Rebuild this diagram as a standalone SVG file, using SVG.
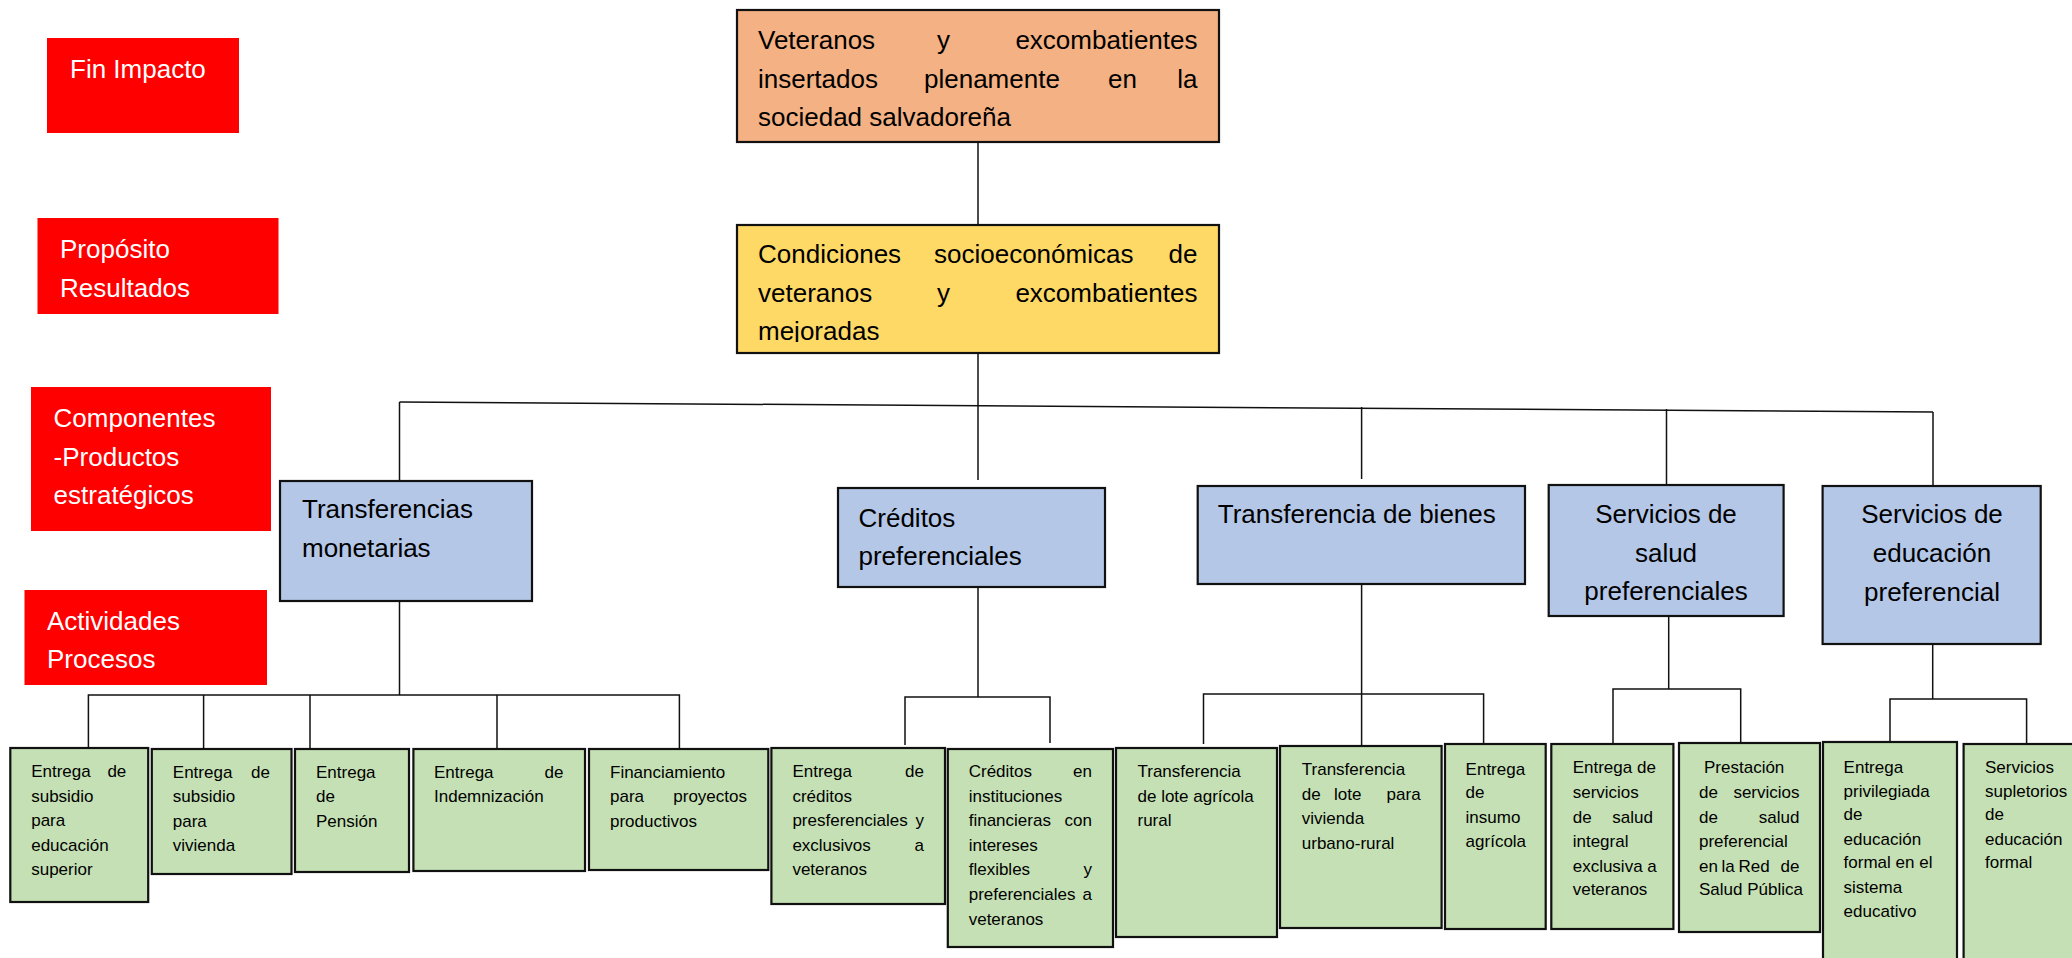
<svg xmlns="http://www.w3.org/2000/svg" width="2072" height="958" viewBox="0 0 2072 958">
<style>
.red{fill:#FF0000;}
.lbl{font-family:"Liberation Sans",Arial,sans-serif;font-size:26px;fill:#FFFFFF;}
.box{stroke:#111;stroke-width:2.2;}
.org{fill:#F4B183;}
.yel{fill:#FFD966;}
.blu{fill:#B4C7E7;}
.grn{fill:#C5E0B4;}
.big{font-family:"Liberation Sans",Arial,sans-serif;font-size:26px;fill:#000;}
.sm{font-family:"Liberation Sans",Arial,sans-serif;font-size:17px;fill:#000;}
.end{text-anchor:end;}
.mid{text-anchor:middle;}
.con{stroke:#111;stroke-width:1.5;fill:none;}
</style>
<defs>
<clipPath id="clipY"><rect x="737" y="225" width="482" height="117"/></clipPath>
</defs>
<rect width="2072" height="958" fill="#FFFFFF"/>

<g id="connectors">
<line class="con" x1="978" y1="142" x2="978" y2="225"/>
<line class="con" x1="978" y1="345" x2="978" y2="480"/>
<line class="con" x1="399.5" y1="402" x2="1933" y2="412"/>
<line class="con" x1="399.5" y1="402" x2="399.5" y2="481"/>
<line class="con" x1="1361.6" y1="407" x2="1361.6" y2="479"/>
<line class="con" x1="1666.5" y1="409" x2="1666.5" y2="485"/>
<line class="con" x1="1933" y1="412" x2="1933" y2="486"/>
<!-- Transferencias monetarias -->
<line class="con" x1="399.5" y1="601" x2="399.5" y2="695"/>
<polyline class="con" points="88.4,748 88.4,695 679.4,695 679.4,749"/>
<line class="con" x1="203.6" y1="695" x2="203.6" y2="749"/>
<line class="con" x1="310" y1="695" x2="310" y2="749"/>
<line class="con" x1="497" y1="695" x2="497" y2="749"/>
<!-- Creditos -->
<line class="con" x1="978" y1="587" x2="978" y2="697"/>
<polyline class="con" points="905,745 905,697 1050,697 1050,743"/>
<!-- Transferencia de bienes -->
<line class="con" x1="1361.6" y1="578" x2="1361.6" y2="746"/>
<polyline class="con" points="1203.5,744 1203.5,694 1483.6,694 1483.6,744"/>
<!-- Salud -->
<line class="con" x1="1668.7" y1="616" x2="1668.7" y2="689"/>
<polyline class="con" points="1613,744 1613,689 1740.7,689 1740.7,743"/>
<!-- Educacion -->
<line class="con" x1="1932.7" y1="644" x2="1932.7" y2="699"/>
<polyline class="con" points="1890,742 1890,699 2026.6,699 2026.6,744"/>
</g>

<g id="lbl-fin">
<rect class="red" x="47" y="38" width="192" height="95"/>
<text class="lbl" x="70" y="78">Fin Impacto</text>
</g>
<g id="lbl-proposito">
<rect class="red" x="37.5" y="218" width="241" height="96"/>
<text class="lbl" x="60" y="258">Propósito</text>
<text class="lbl" x="60" y="297">Resultados</text>
</g>
<g id="lbl-componentes">
<rect class="red" x="31" y="387" width="240" height="144"/>
<text class="lbl" x="53.6" y="427">Componentes</text>
<text class="lbl" x="53.6" y="466">-Productos</text>
<text class="lbl" x="53.6" y="504">estratégicos</text>
</g>
<g id="lbl-actividades">
<rect class="red" x="24.5" y="590" width="242.5" height="95"/>
<text class="lbl" x="47" y="630">Actividades</text>
<text class="lbl" x="47" y="668">Procesos</text>
</g>

<g id="fin">
<rect class="box org" x="737" y="10" width="482" height="132"/>
<text class="big" x="758" y="49">Veteranos</text>
<text class="big" x="937" y="49">y</text>
<text class="big end" x="1197.5" y="49">excombatientes</text>
<text class="big" x="758" y="88">insertados</text>
<text class="big" x="924" y="88">plenamente</text>
<text class="big" x="1108" y="88">en</text>
<text class="big end" x="1197.5" y="88">la</text>
<text class="big" x="758" y="126">sociedad salvadoreña</text>
</g>

<g id="proposito">
<rect class="box yel" x="737" y="225" width="482" height="128"/>
<text class="big" x="758" y="263">Condiciones</text>
<text class="big" x="934" y="263">socioeconómicas</text>
<text class="big end" x="1197.5" y="263">de</text>
<text class="big" x="758" y="302">veteranos</text>
<text class="big" x="937" y="302">y</text>
<text class="big end" x="1197.5" y="302">excombatientes</text>
<text class="big" x="758" y="340" clip-path="url(#clipY)">mejoradas</text>
</g>

<g id="comp-transferencias">
<rect class="box blu" x="280" y="481" width="252" height="120"/>
<text class="big" x="302" y="518">Transferencias</text>
<text class="big" x="302" y="557">monetarias</text>
</g>
<g id="comp-creditos">
<rect class="box blu" x="838" y="488" width="267" height="99"/>
<text class="big" x="858.5" y="527">Créditos</text>
<text class="big" x="858.5" y="565">preferenciales</text>
</g>
<g id="comp-bienes">
<rect class="box blu" x="1197.7" y="486" width="327.3" height="98"/>
<text class="big" x="1217.8" y="523">Transferencia de bienes</text>
</g>
<g id="comp-salud">
<rect class="box blu" x="1548.7" y="485" width="234.9" height="131"/>
<text class="big mid" x="1666" y="523">Servicios de</text>
<text class="big mid" x="1666" y="562">salud</text>
<text class="big mid" x="1666" y="600">preferenciales</text>
</g>
<g id="comp-educacion">
<rect class="box blu" x="1822.6" y="486" width="218.1" height="158"/>
<text class="big mid" x="1932" y="523">Servicios de</text>
<text class="big mid" x="1932" y="562">educación</text>
<text class="big mid" x="1932" y="601">preferencial</text>
</g>

<g id="act-1">
<rect class="box grn" x="10.3" y="748" width="137.9" height="154"/>
<text class="sm" x="31.2" y="777">Entrega</text>
<text class="sm end" x="126.3" y="777">de</text>
<text class="sm" x="31.2" y="802">subsidio</text>
<text class="sm" x="31.2" y="826">para</text>
<text class="sm" x="31.2" y="851">educación</text>
<text class="sm" x="31.2" y="875">superior</text>
</g>
<g id="act-2">
<rect class="box grn" x="151.8" y="749" width="139.7" height="125"/>
<text class="sm" x="172.8" y="778">Entrega</text>
<text class="sm end" x="270" y="778">de</text>
<text class="sm" x="172.8" y="802">subsidio</text>
<text class="sm" x="172.8" y="827">para</text>
<text class="sm" x="172.8" y="851">vivienda</text>
</g>
<g id="act-3">
<rect class="box grn" x="295" y="749" width="114" height="123"/>
<text class="sm" x="316" y="778">Entrega</text>
<text class="sm" x="316" y="802">de</text>
<text class="sm" x="316" y="827">Pensión</text>
</g>
<g id="act-4">
<rect class="box grn" x="413.4" y="749" width="171.6" height="122"/>
<text class="sm" x="434" y="778">Entrega</text>
<text class="sm end" x="563.4" y="778">de</text>
<text class="sm" x="434" y="802">Indemnización</text>
</g>
<g id="act-5">
<rect class="box grn" x="589" y="749" width="179.3" height="121"/>
<text class="sm" x="610" y="778">Financiamiento</text>
<text class="sm" x="610" y="802">para</text>
<text class="sm end" x="747" y="802">proyectos</text>
<text class="sm" x="610" y="827">productivos</text>
</g>
<g id="act-6">
<rect class="box grn" x="771.4" y="748" width="173.6" height="156"/>
<text class="sm" x="792.4" y="777">Entrega</text>
<text class="sm end" x="924" y="777">de</text>
<text class="sm" x="792.4" y="802">créditos</text>
<text class="sm" x="792.4" y="826">presferenciales</text>
<text class="sm end" x="924" y="826">y</text>
<text class="sm" x="792.4" y="851">exclusivos</text>
<text class="sm end" x="924" y="851">a</text>
<text class="sm" x="792.4" y="875">veteranos</text>
</g>
<g id="act-7">
<rect class="box grn" x="947.8" y="749" width="165.2" height="198"/>
<text class="sm" x="968.7" y="777">Créditos</text>
<text class="sm end" x="1092" y="777">en</text>
<text class="sm" x="968.7" y="802">instituciones</text>
<text class="sm" x="968.7" y="826">financieras</text>
<text class="sm end" x="1092" y="826">con</text>
<text class="sm" x="968.7" y="851">intereses</text>
<text class="sm" x="968.7" y="875">flexibles</text>
<text class="sm end" x="1092" y="875">y</text>
<text class="sm" x="968.7" y="900">preferenciales</text>
<text class="sm end" x="1092" y="900">a</text>
<text class="sm" x="968.7" y="925">veteranos</text>
</g>
<g id="act-8">
<rect class="box grn" x="1116" y="748" width="161" height="189"/>
<text class="sm" x="1137.5" y="777">Transferencia</text>
<text class="sm" x="1137.5" y="802">de lote agrícola</text>
<text class="sm" x="1137.5" y="826">rural</text>
</g>
<g id="act-9">
<rect class="box grn" x="1280" y="746" width="161.6" height="182"/>
<text class="sm" x="1301.8" y="775">Transferencia</text>
<text class="sm" x="1301.8" y="800">de</text>
<text class="sm" x="1334" y="800">lote</text>
<text class="sm end" x="1420.6" y="800">para</text>
<text class="sm" x="1301.8" y="824">vivienda</text>
<text class="sm" x="1301.8" y="849">urbano-rural</text>
</g>
<g id="act-10">
<rect class="box grn" x="1445" y="744" width="100.7" height="185"/>
<text class="sm" x="1465.6" y="775">Entrega</text>
<text class="sm" x="1465.6" y="798">de</text>
<text class="sm" x="1465.6" y="823">insumo</text>
<text class="sm" x="1465.6" y="847">agrícola</text>
</g>
<g id="act-11">
<rect class="box grn" x="1551.3" y="744" width="122.1" height="185"/>
<text class="sm" x="1572.7" y="773">Entrega de</text>
<text class="sm" x="1572.7" y="798">servicios</text>
<text class="sm" x="1572.7" y="823">de</text>
<text class="sm end" x="1653" y="823">salud</text>
<text class="sm" x="1572.7" y="847">integral</text>
<text class="sm" x="1572.7" y="872">exclusiva a</text>
<text class="sm" x="1572.7" y="895">veteranos</text>
</g>
<g id="act-12">
<rect class="box grn" x="1679" y="743" width="141" height="189"/>
<text class="sm" x="1704" y="773">Prestación</text>
<text class="sm" x="1699" y="798">de</text>
<text class="sm end" x="1799.5" y="798">servicios</text>
<text class="sm" x="1699" y="823">de</text>
<text class="sm end" x="1799.5" y="823">salud</text>
<text class="sm" x="1699" y="847">preferencial</text>
<text class="sm" x="1699" y="872">en</text>
<text class="sm" x="1721.5" y="872">la</text>
<text class="sm" x="1738.6" y="872">Red</text>
<text class="sm end" x="1799.5" y="872">de</text>
<text class="sm" x="1699" y="895">Salud Pública</text>
</g>
<g id="act-13">
<rect class="box grn" x="1823" y="742" width="134" height="230"/>
<text class="sm" x="1843.6" y="773">Entrega</text>
<text class="sm" x="1843.6" y="797">privilegiada</text>
<text class="sm" x="1843.6" y="820">de</text>
<text class="sm" x="1843.6" y="845">educación</text>
<text class="sm" x="1843.6" y="868">formal en el</text>
<text class="sm" x="1843.6" y="893">sistema</text>
<text class="sm" x="1843.6" y="917">educativo</text>
</g>
<g id="act-14">
<rect class="box grn" x="1963.6" y="744" width="130" height="230"/>
<text class="sm" x="1985" y="773">Servicios</text>
<text class="sm" x="1985" y="797">supletorios</text>
<text class="sm" x="1985" y="820">de</text>
<text class="sm" x="1985" y="845">educación</text>
<text class="sm" x="1985" y="868">formal</text>
</g>
</svg>
